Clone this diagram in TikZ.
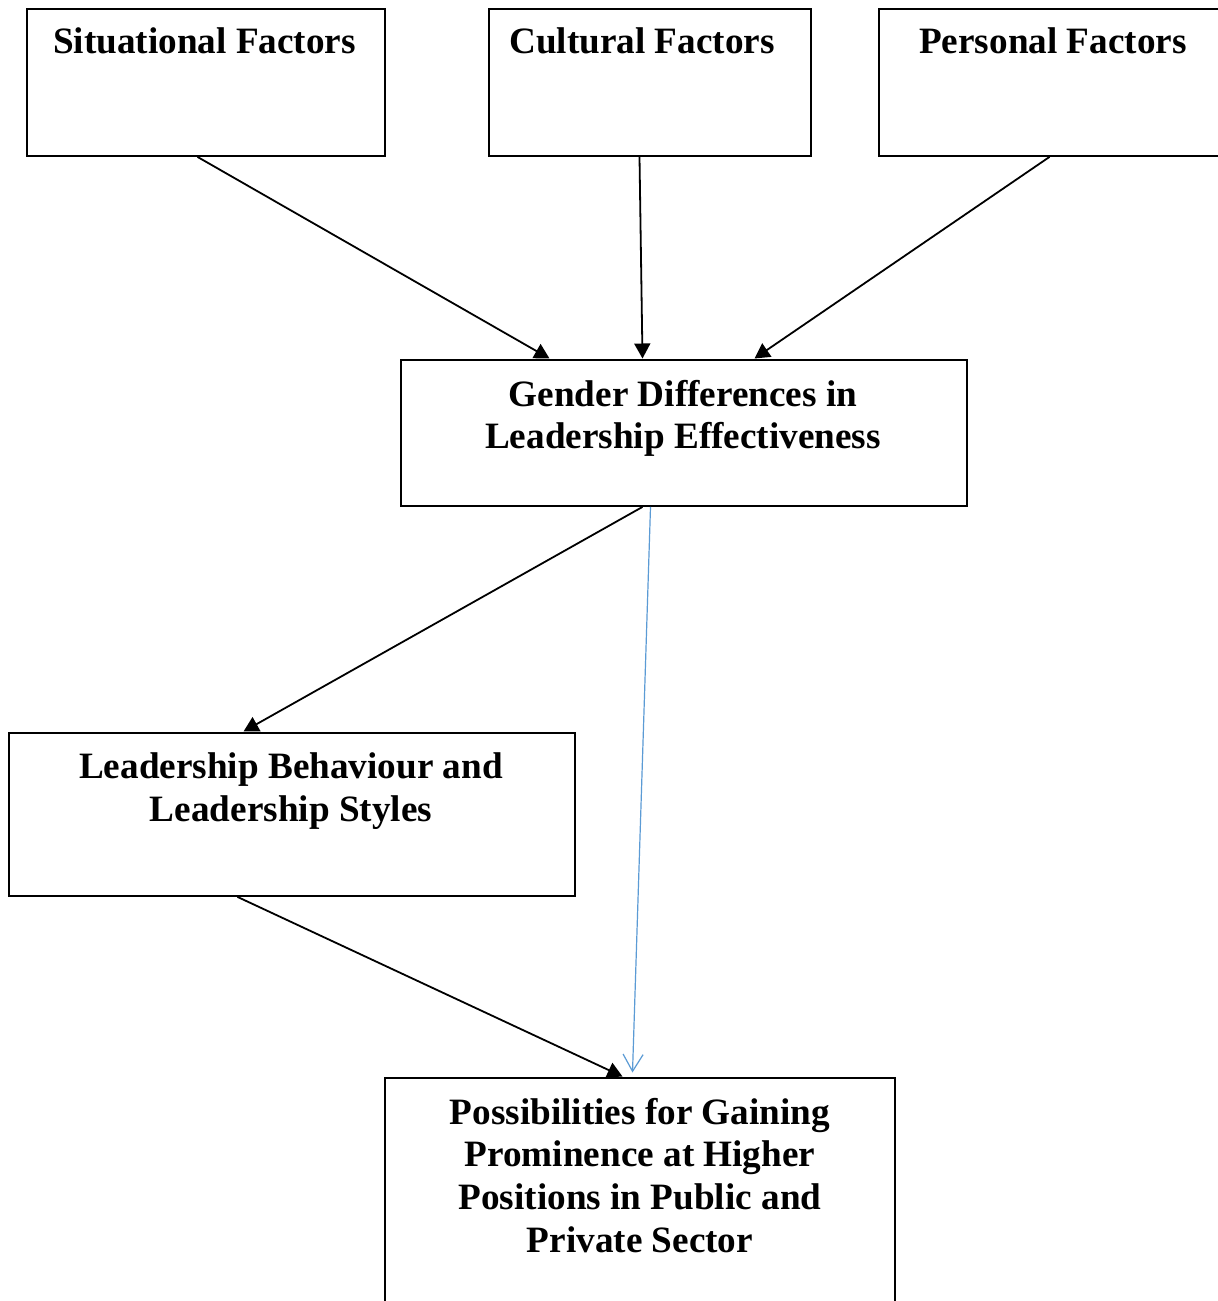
\documentclass[tikz,border=0pt]{standalone}
\usepackage{fontspec}
\setmainfont{Liberation Serif}
\usetikzlibrary{arrows.meta,calc}
\definecolor{arrowblue}{RGB}{91,155,213}
\begin{document}
\begin{tikzpicture}[x=0.5pt,y=-0.5pt,
  box/.style={draw=black,line width=1.2pt,fill=white,rectangle,anchor=north west,inner sep=0pt},
  lbl/.style={anchor=north,inner sep=0pt,align=center,font=\fontsize{18.6}{21.4}\selectfont\bfseries},
  conn/.style={draw=black,line width=0.9pt,-{Triangle[length=7.5pt,width=8pt]}},
  bconn/.style={draw=arrowblue,line width=0.6pt,-{Straight Barb[length=8.5pt,width=10pt,line width=0.6pt]}}]
\useasboundingbox (0,0) rectangle (1218,1301);
\clip (0,0) rectangle (1218,1301);
\fill[white] (0,0) rectangle (1218,1301);
% boxes
\node[box,minimum width=179pt,minimum height=73.5pt] (sit) at (25.5,7.5) {};
\node[box,minimum width=161pt,minimum height=73.5pt] (cul) at (487.5,7.5) {};
\node[box,minimum width=176pt,minimum height=73.5pt] (per) at (877.5,7.5) {};
\node[box,minimum width=283pt,minimum height=73pt] (gen) at (399.5,358.5) {};
\node[box,minimum width=283pt,minimum height=81.5pt] (lea) at (7.5,731.5) {};
\node[box,minimum width=255pt,minimum height=125pt] (pos) at (383.5,1076.5) {};
% labels
\node[lbl] (sitt) at (204.5,27.5) {Situational Factors};
\node[lbl] (cult) at (642,27.5) {Cultural Factors};
\node[lbl] (pert) at (1053,27.5) {Personal Factors};
\node[lbl] (gent) at (683,379.5) {Gender Differences in\\Leadership Effectiveness};
\node[lbl] (leat) at (291,752.5) {Leadership Behaviour and\\Leadership Styles};
\node[lbl] (post) at (640,1097.5) {Possibilities for Gaining\\Prominence at Higher\\Positions in Public and\\Private Sector};
% connectors
\draw[conn] ($(sit.south west)+(172,0)$) -- ($(gen.north west)+(150,0)$);
\draw[conn] ($(cul.south west)+(152,0)$) -- ($(gen.north west)+(243,0)$);
\draw[conn] ($(per.south west)+(172,0)$) -- ($(gen.north west)+(355,0)$);
\draw[conn] ($(gen.south west)+(243,0)$) -- ($(lea.north west)+(236,0)$);
\draw[bconn] ($(gen.south west)+(251,0)$) -- ($(pos.north west)+(249,-4)$);
\draw[conn] ($(lea.south west)+(230,0)$) -- ($(pos.north west)+(239,0)$);
\end{tikzpicture}
\end{document}
